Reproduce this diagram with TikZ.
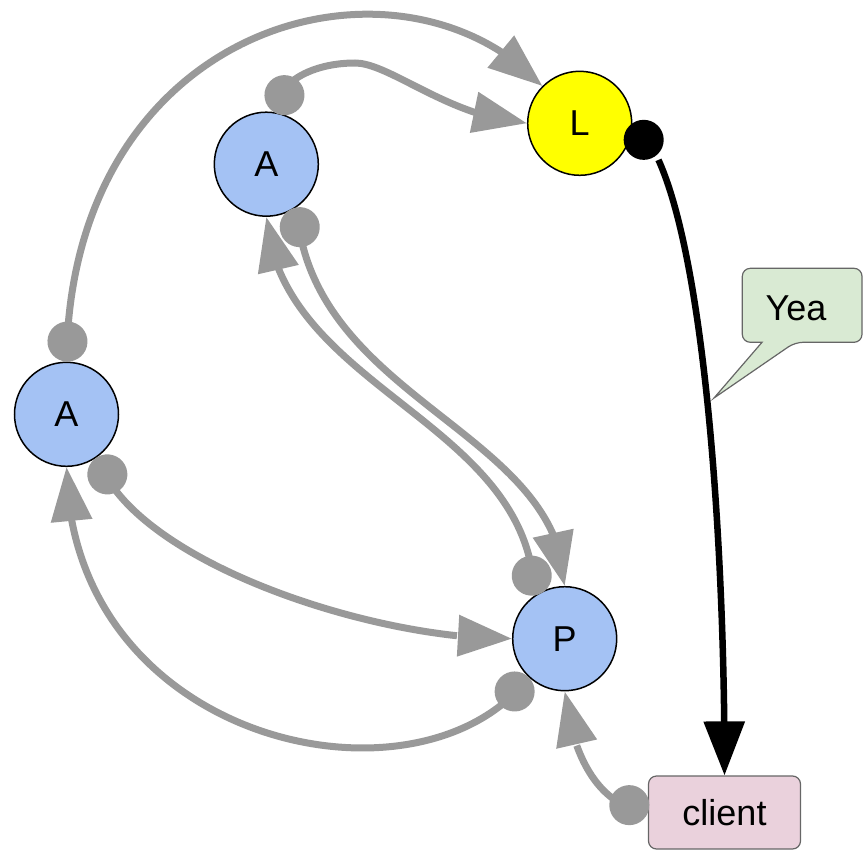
\documentclass[tikz,border=0pt]{standalone}
\usepackage{fontspec}
\setmainfont{Liberation Sans}
\usetikzlibrary{arrows.meta,bending}

\definecolor{nodeblue}{HTML}{A4C2F4}
\definecolor{leaderyellow}{HTML}{FFFF00}
\definecolor{clientpink}{HTML}{EAD1DC}
\definecolor{notegreen}{HTML}{D9EAD3}
\definecolor{linkgray}{HTML}{999999}
\definecolor{edgegray}{HTML}{666666}

\tikzset{
  labelfont/.style={font=\fontsize{36}{43}\selectfont},
  peer/.style={circle, draw=black, line width=1.5pt, minimum size=104pt,
    inner sep=0pt, fill=nodeblue, labelfont},
  leader/.style={peer, fill=leaderyellow},
  clientbox/.style={rectangle, rounded corners=8pt, draw=edgegray, line width=1.2pt,
    fill=clientpink, minimum width=152pt, minimum height=73pt, inner sep=0pt, labelfont},
  msg/.style={draw=linkgray, line width=7pt,
    {Circle[length=40pt]}-{Triangle[length=54pt,width=40pt]}},
  reply/.style={draw=black, line width=6.5pt,
    {Circle[length=40pt]}-{Triangle[length=54pt,width=40pt]}},
  note/.style={draw=edgegray, fill=notegreen, line width=1.2pt},
}

\begin{document}
\begin{tikzpicture}[x=1pt,y=-1pt]
  \useasboundingbox (0,0) rectangle (864,850);

  % nodes
  \node[peer]      (al) at (66.5,414.3)  {A};
  \node[peer]      (at) at (266.3,164.2) {A};
  \node[leader]    (ld) at (579.7,123.3) {L};
  \node[peer]      (pr) at (564.7,638.7) {P};
  \node[clientbox] (cl) at (724.5,812.5) {client};

  % speech bubble
  \draw[note] (742.3,342.3) [rounded corners=8pt] -- (742.3,268.3) -- (862,268.3)
      -- (862,342.3) -- (795,342.3) [sharp corners] -- (714,398) -- (762,342.3)
      [rounded corners=8pt] -- cycle;
  \node[labelfont, anchor=base] (yea) at (796,320) {Yea};

  % gray message links
  \draw[msg] (al.north) .. controls (70,20) and (400,-65) .. (ld.135);
  \draw[msg] (at.82.5) .. controls (278,80) and (315,63) .. (355,63)
             .. controls (390,63) and (450,118) .. (ld.west);
  \draw[msg] (at.305) .. controls (310,400) and (560,430) .. (pr.north);
  \draw[msg] (pr.125.3) .. controls (530,420) and (280,390) .. (at.south);
  \draw[msg] (al.306.7) .. controls (130,560) and (370,640) .. (pr.west);
  \draw[msg] (pr.227.9) .. controls (420,820) and (70,745) .. (al.south);
  \draw[msg] (cl.west) .. controls (590,805) and (570,740) .. (pr.south);

  % reply to the client
  \draw[reply] (ld.east) .. controls (700,170) and (725,520) .. (cl.north);
\end{tikzpicture}
\end{document}
